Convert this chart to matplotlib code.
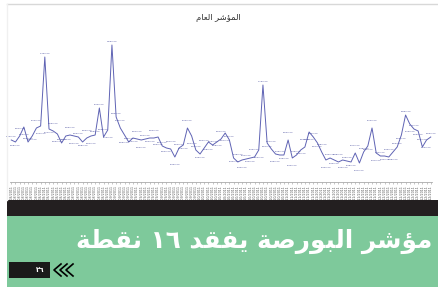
import numpy as np
import pandas as pd
import matplotlib
matplotlib.use('Agg')
import matplotlib.pyplot as plt
from matplotlib.patches import Rectangle
from matplotlib.lines import Line2D

#=========================================================================
# general index, daily close
index_close = [
  5600, 5580, 5640, 5730, 5580, 5640, 5720, 5740, 6430, 5710,
  5690, 5660, 5570, 5640, 5650, 5640, 5630, 5580, 5620, 5640,
  5650, 5920, 5630, 5700, 6550, 5830, 5720, 5650, 5580, 5620,
  5610, 5600, 5610, 5620, 5620, 5630, 5540, 5520, 5510, 5430,
  5520, 5550, 5720, 5640, 5500, 5460, 5520, 5580, 5550, 5580,
  5610, 5670, 5600, 5420, 5380, 5400, 5410, 5420, 5430, 5500,
  6150, 5570, 5510, 5460, 5450, 5450, 5600, 5420, 5450, 5500,
  5530, 5680, 5630, 5570, 5480, 5400, 5420, 5400, 5380, 5400,
  5390, 5380, 5470, 5370, 5480, 5540, 5720, 5470, 5440, 5440,
  5430, 5480, 5530, 5650, 5850, 5760, 5710, 5690, 5530, 5600,
  5630,
]
trade_dates = pd.bdate_range('2011-08-01', periods=len(index_close))
date_labels = [d.strftime('%d/%m/%Y') for d in trade_dates]

chart_title = '\ufee1\ufe8e\ufecc\ufedf\ufe8d \ufeae\ufeb7\ufe86\ufee4\ufedf\ufe8d'   # المؤشر العام
headline = ('\ufe94\ufec4\ufed8\ufee7 \u0661\u0666 \ufeaa\ufed8\ufed4\ufef3 '
            '\ufe94\ufebb\ufead\ufeee\ufe92\ufedf\ufe8d \ufeae\ufeb7\ufe86\ufee3')  # مؤشر البورصة يفقد ١٦ نقطة
page_no = '\u0662\u0666'   # ٢٦

W, H = 438, 287

def fx(x):
  return x/W

def fy(y):
  return 1.0 - y/H

#=========================================================================
fig = plt.figure(figsize=(W/100, H/100), dpi=100)
fig.patch.set_facecolor('white')

# chart frame (faint)
fig.add_artist(Line2D([fx(7), 1], [fy(4), fy(4)], color='#d8d8d8', lw=1.0))
fig.add_artist(Line2D([fx(7), fx(7)], [fy(4), fy(200)], color='#f0f0f0', lw=1.0))

# axes: 10..432 px wide, 30..182 px tall
ax = fig.add_axes([fx(10), fy(182), fx(422), 152/H])
x = np.arange(len(index_close))
y = np.array(index_close, dtype=float)
ax.plot(x, y, color='#5f63b4', lw=0.7)

# point labels, staggered on four levels so neighbours do not collide
offsets = [2.5, -2.5, 5.0, -5.0]
for i in range(len(x)):
  off = offsets[i % 4]
  if y[i] > 5800:
    off = 2.5
  va = 'bottom' if off > 0 else 'top'
  ax.annotate('{:,.2f}'.format(y[i]), (x[i], y[i]), xytext=(0, off),
              textcoords='offset points', ha='center', va=va,
              fontsize=1.7, color='#4a4f9e')

ax.set_xlim(-0.3, len(x) - 0.7)
ax.set_ylim(5180, 6700)
ax.set_xticks(x)
ax.set_xticklabels(date_labels, rotation=90, fontsize=2.3, color='#555555')
ax.tick_params(axis='x', length=1.5, width=0.4, color='#999999', pad=0.8)
ax.set_yticks([])
for s in ['top', 'left', 'right']:
  ax.spines[s].set_visible(False)
ax.spines['bottom'].set_color('#aaaaaa')
ax.spines['bottom'].set_linestyle((0, (3, 1)))
ax.spines['bottom'].set_linewidth(0.6)
ax.patch.set_alpha(0)

fig.text(fx(218), fy(17), chart_title, ha='center', va='center',
         fontsize=6, color='#333333', family=['DejaVu Sans'])

# black band and green headline panel
fig.add_artist(Rectangle((fx(7), fy(216)), 1, 16/H, transform=fig.transFigure,
                         facecolor='#231f20', edgecolor='none'))
fig.add_artist(Rectangle((fx(7), 0), 1, fy(216), transform=fig.transFigure,
                         facecolor='#7ec99b', edgecolor='none'))

fig.text(fx(432), fy(241), headline, ha='right', va='center',
         fontsize=17.7, fontweight='bold', color='white', family=['DejaVu Sans'])

# page reference box with chevrons
fig.add_artist(Rectangle((fx(9), fy(278)), fx(41), 16/H, transform=fig.transFigure,
                         facecolor='#1a1a1a', edgecolor='none'))
fig.text(fx(40), fy(270), page_no, ha='center', va='center',
         fontsize=5, fontweight='bold', color='white', family=['DejaVu Sans'])
for cx in [54, 60, 66]:
  fig.add_artist(Line2D([fx(cx + 7), fx(cx), fx(cx + 7)],
                        [fy(264), fy(270), fy(276)], color='black', lw=1.2))

plt.savefig('out.png', dpi=100)
